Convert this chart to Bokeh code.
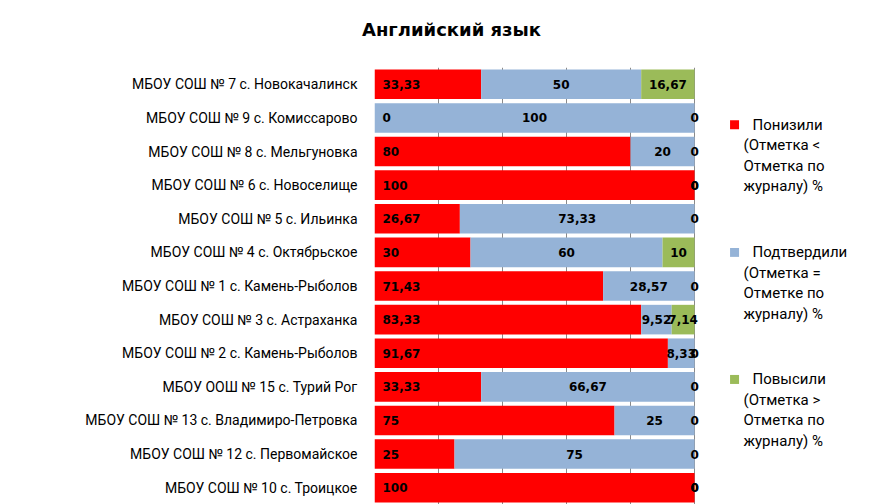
import numpy as np
from bokeh.plotting import figure
from bokeh.layouts import column
from bokeh.models import Range1d, FixedTicker, ColumnDataSource, Div
from bokeh.core.properties import value
from bokeh.embed import file_html
from bokeh.resources import INLINE

schools = [
    "МБОУ СОШ № 7 с. Новокачалинск",
    "МБОУ СОШ № 9 с. Комиссарово",
    "МБОУ СОШ № 8 с. Мельгуновка",
    "МБОУ СОШ № 6 с. Новоселище",
    "МБОУ СОШ № 5 с. Ильинка",
    "МБОУ СОШ № 4 с. Октябрьское",
    "МБОУ СОШ № 1 с. Камень-Рыболов",
    "МБОУ СОШ № 3 с. Астраханка",
    "МБОУ СОШ № 2 с. Камень-Рыболов",
    "МБОУ ООШ № 15 с. Турий Рог",
    "МБОУ СОШ № 13 с. Владимиро-Петровка",
    "МБОУ СОШ № 12 с. Первомайское",
    "МБОУ СОШ № 10 с. Троицкое",
]
lowered = [33.33, 0, 80, 100, 26.67, 30, 71.43, 83.33, 91.67, 33.33, 75, 25, 100]
confirmed = [50, 100, 20, 0, 73.33, 60, 28.57, 9.52, 8.33, 66.67, 25, 75, 0]
raised = [16.67, 0, 0, 0, 0, 10, 0, 7.14, 0, 0, 0, 0, 0]

series_names = ["Понизили", "Подтвердили", "Повысили"]
series_desc = [
    ["(Отметка <", "Отметка по", "журналу) %"],
    ["(Отметка =", "Отметке по", "журналу) %"],
    ["(Отметка >", "Отметка по", "журналу) %"],
]
colors = ["#FF0000", "#95B3D7", "#9BBB59"]
title_text = "Английский язык"
grid_ticks = [0, 20, 40, 60, 80, 100]


def fmt(v):
    if abs(v - round(v)) < 1e-9:
        return str(int(round(v)))
    return f"{v:.2f}".replace(".", ",")


n = len(schools)
ys = np.arange(n)[::-1].astype(float)  # top row has highest y
low = np.array(lowered, dtype=float)
conf = np.array(confirmed, dtype=float)
rais = np.array(raised, dtype=float)

XMAX = 158.1
W = 880
TOP = 67
H = 504 - TOP

title_div = Div(
    text=title_text, width=W, height=TOP, margin=(0, 0, 0, 0),
    styles={"font-family": "DejaVu Sans", "font-size": "18px", "font-weight": "bold",
            "color": "black", "line-height": "22px", "padding-top": "19px",
            "padding-left": "362px", "box-sizing": "border-box"},
)

p = figure(
    width=W, height=H,
    x_range=Range1d(0, XMAX),
    y_range=Range1d(-0.5, n - 0.5),
    output_backend="svg", toolbar_location=None,
    min_border_left=374, min_border_right=0,
    min_border_top=0, min_border_bottom=0,
    margin=(0, 0, 0, 0),
)
p.outline_line_color = None
p.background_fill_color = "white"

p.xaxis.visible = False
p.xgrid.ticker = FixedTicker(ticks=grid_ticks)
p.xgrid.grid_line_color = "#8A8A8A"
p.ygrid.grid_line_color = None

p.yaxis.ticker = FixedTicker(ticks=list(ys))
p.yaxis.major_label_overrides = {float(y): s for y, s in zip(ys, schools)}
p.yaxis.axis_line_color = None
p.yaxis.major_tick_line_color = None
p.yaxis.minor_tick_line_color = None
p.yaxis.major_label_text_font = "Roboto"
p.yaxis.major_label_text_font_size = "14px"
p.yaxis.major_label_text_color = "black"
p.yaxis.major_label_standoff = 11

bh = 0.88
src = ColumnDataSource(dict(
    y=ys,
    l0=np.zeros(n), r0=low,
    l1=low, r1=low + conf,
    l2=low + conf, r2=low + conf + rais,
    t0=[fmt(v) for v in low], t1=[fmt(v) for v in conf], t2=[fmt(v) for v in rais],
    x1=low + conf / 2, x2=low + conf + rais / 2,
))
for i, c in enumerate(colors):
    p.hbar(y="y", left=f"l{i}", right=f"r{i}", height=bh, color=c, line_color=None, source=src)

lab_kw = dict(text_font=value("DejaVu Sans"), text_font_style="bold", text_font_size="12px",
              text_color="black", text_baseline="middle", source=src)
p.text(x="l0", y="y", text="t0", text_align="left", x_offset=8, **lab_kw)
p.text(x="x1", y="y", text="t1", text_align="center", **lab_kw)
p.text(x="x2", y="y", text="t2", text_align="center", **lab_kw)

# manual legend on the right
leg_y = [10.80, 7.00, 3.22]
leg_x_marker = 112.5
leg_x_text = 115.3
p.scatter(x=[leg_x_marker] * 3, y=leg_y, marker="square", size=9, color=colors, line_color=None)
lx, ly, lt, lxo, lyo = [], [], [], [], []
for k in range(3):
    lines = [series_names[k]] + series_desc[k]
    for j, t in enumerate(lines):
        lx.append(leg_x_text)
        ly.append(leg_y[k])
        lt.append(t)
        lxo.append(9 if j == 0 else 0)
        lyo.append(20.5 * j)
p.text(x=lx, y=ly, text=lt, x_offset=lxo, y_offset=lyo, text_font=value("Roboto"),
       text_font_size="15px", text_color="black", text_baseline="middle", text_align="left")

layout = column(title_div, p, spacing=0, margin=(0, 0, 0, 0))
open("out.html", "w").write(file_html(layout, INLINE))
